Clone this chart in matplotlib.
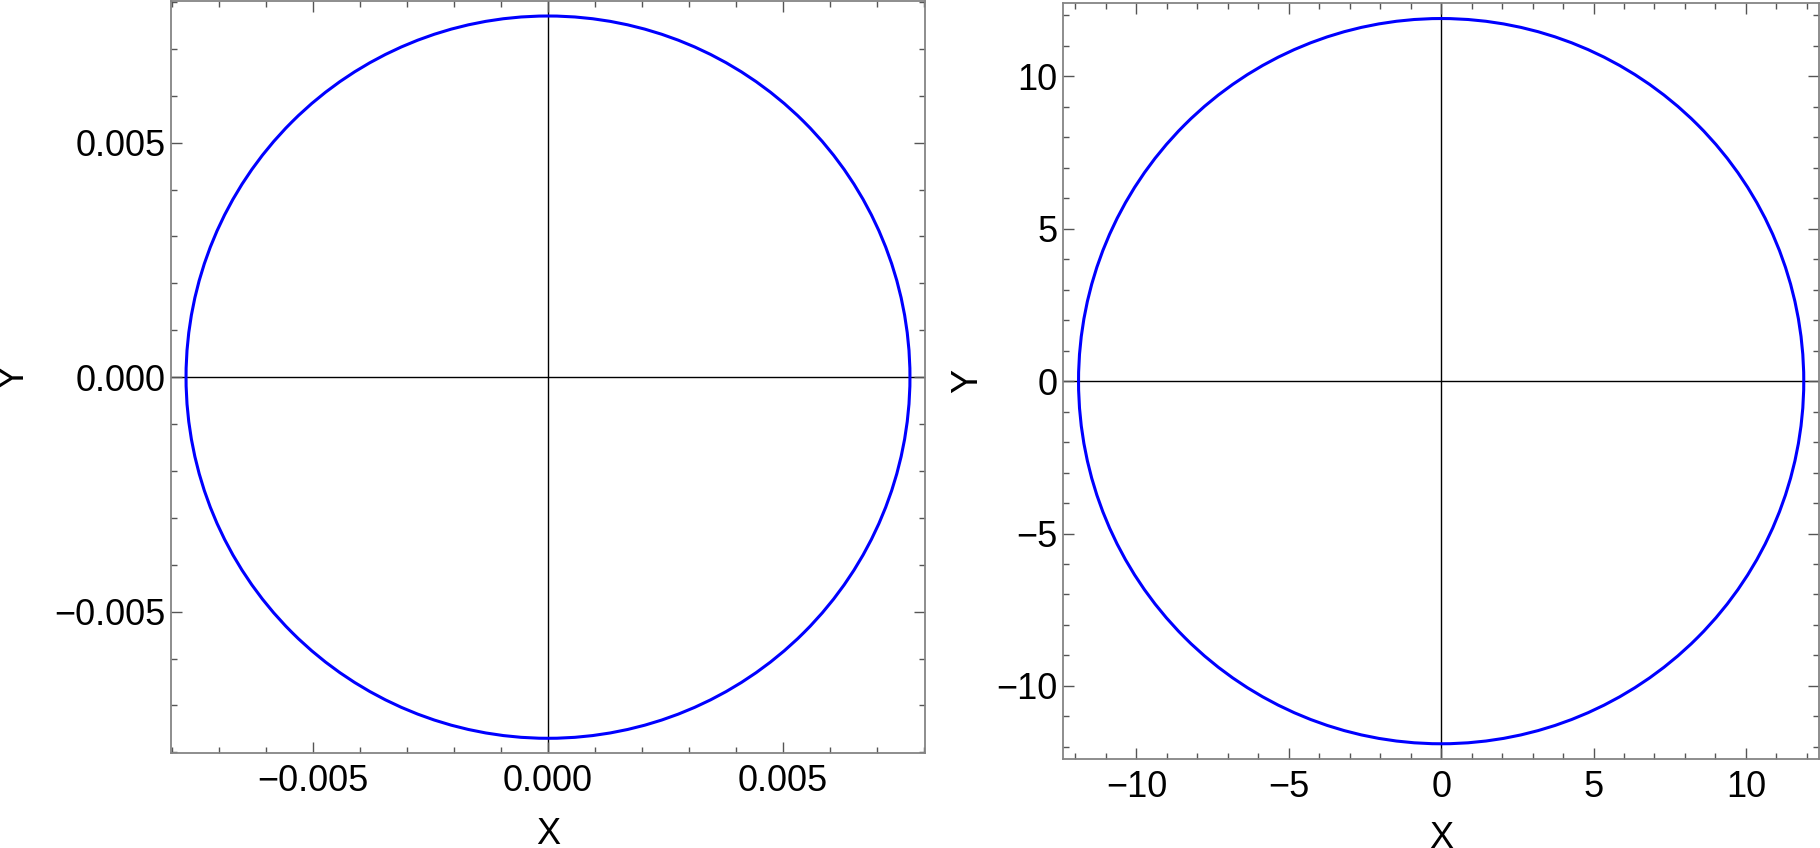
import matplotlib
matplotlib.use("Agg")
import matplotlib.pyplot as plt
from matplotlib.patches import Circle
from matplotlib.ticker import MultipleLocator

plt.rcParams['font.family'] = ['Liberation Sans', 'DejaVu Sans']

# Data
radii = [0.0077, 11.9]
limits = [0.00802, 12.4]
major_steps = [0.005, 5]
minor_steps = [0.001, 1]
tick_formats = ["{:.3f}", "{:g}"]
x_label = "X"
y_label = "Y"

fig = plt.figure(figsize=(18.2, 8.48), dpi=100)
positions = [
    [171 / 1820, (848 - 753.3) / 848, 754 / 1820, 752.3 / 848],
    [1063.3 / 1820, (848 - 759) / 848, 755.7 / 1820, 755.7 / 848],
]
ylabel_x = [-0.185, -0.103]
xlabel_y = [-0.085, -0.082]

frame_color = "#858585"
fs = 26

for i in range(2):
    ax = fig.add_axes(positions[i])
    lim = limits[i]
    ax.set_xlim(-lim, lim)
    ax.set_ylim(-lim, lim)
    ax.axhline(0, color="black", lw=1.0, zorder=1)
    ax.axvline(0, color="black", lw=1.0, zorder=1)
    ax.add_patch(Circle((0, 0), radii[i], fill=False, edgecolor="#0000ff", lw=2.2, zorder=2))
    ax.xaxis.set_major_locator(MultipleLocator(major_steps[i]))
    ax.yaxis.set_major_locator(MultipleLocator(major_steps[i]))
    ax.xaxis.set_minor_locator(MultipleLocator(minor_steps[i]))
    ax.yaxis.set_minor_locator(MultipleLocator(minor_steps[i]))
    fmt = tick_formats[i]
    ax.xaxis.set_major_formatter(lambda v, p, f=fmt: f.format(v + 0.0).replace("-", "\u2212"))
    ax.yaxis.set_major_formatter(lambda v, p, f=fmt: f.format(v + 0.0).replace("-", "\u2212"))
    ax.tick_params(which="both", direction="in", top=True, right=True, color="#555555", width=1.0)
    ax.tick_params(which="major", length=8, labelsize=fs, pad=4)
    ax.tick_params(which="minor", length=4.5)
    ax.tick_params(axis="x", which="major", pad=8)
    for s in ax.spines.values():
        s.set_color(frame_color)
        s.set_linewidth(1.3)
    ax.set_xlabel(x_label, fontsize=fs)
    ax.set_ylabel(y_label, fontsize=fs)
    ax.yaxis.set_label_coords(ylabel_x[i], 0.5)
    ax.xaxis.set_label_coords(0.5, xlabel_y[i])

fig.savefig("out.png", dpi=100)
